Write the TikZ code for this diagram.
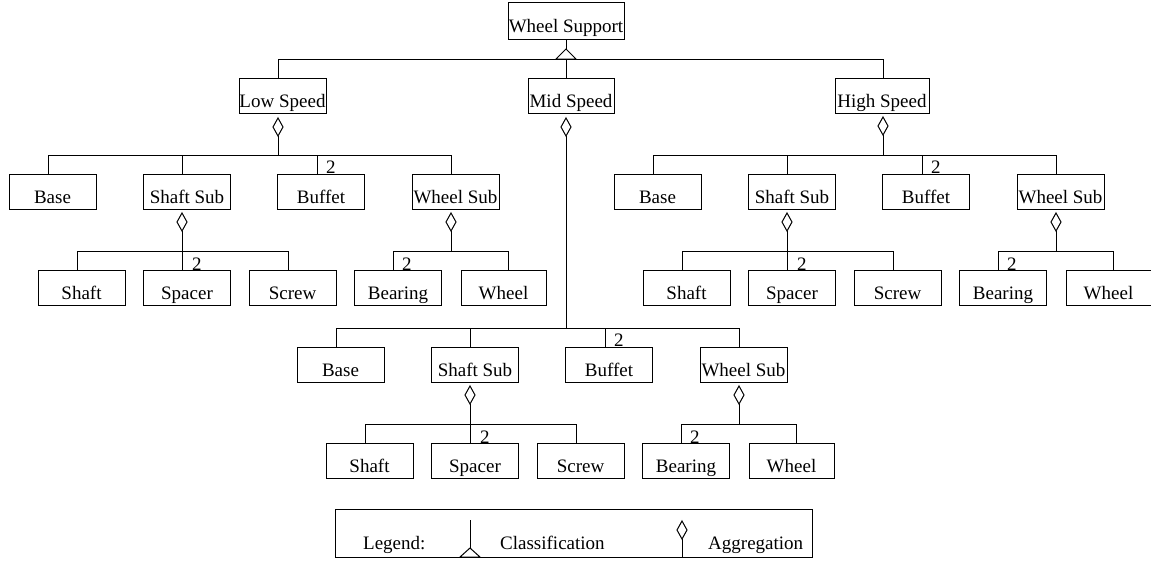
\documentclass[tikz,border=0pt]{standalone}
\usepackage{fontspec}
\setmainfont{Liberation Serif}
\newcommand\fsz{\fontsize{19pt}{22pt}\selectfont}
\newcommand\aggdiam[1]{\draw[conn] (#1) -- ++(5,9) -- ++(-5,9) -- ++(-5,-9) -- cycle;}
\newcommand\drawSubtree[2]{%
\begin{scope}[shift={#2}, name prefix=#1-]
  % level 2
  \node[box] (base) at (52.5,191.5) {Base};
  \node[box] (ss)   at (187,191.5)  {Shaft Sub};
  \node[box] (buf)  at (321,191.5)  {Buffet};
  \node[box] (ws)   at (455.5,191.5) {Wheel Sub};
  \coordinate (top)  at (278,155);
  \coordinate (busl) at (48,155);
  \coordinate (dss)  at (182,155);
  \coordinate (dbuf) at (317,155);
  \coordinate (busr) at (451,155);
  \draw[conn] (busl) -- (busr);
  \draw[conn] (busl) -- (busl |- base.north);
  \draw[conn] (dss)  -- (dss |- ss.north);
  \draw[conn] (dbuf) -- (dbuf |- buf.north);
  \draw[conn] (busr) -- (busr |- ws.north);
  \node[num] (nbuf) at ([xshift=9pt]dbuf |- buf.north) {2};
  % shaft sub children
  \node[box] (shaft)  at (81.5,288) {Shaft};
  \node[box] (spacer) at (187,288)  {Spacer};
  \node[box] (screw)  at (292.5,288) {Screw};
  \coordinate (ssa)  at (182,213);
  \coordinate (ssad) at (182,231);
  \coordinate (sbl)  at (77,251);
  \coordinate (sbm)  at (182,251);
  \coordinate (sbr)  at (288,251);
  \aggdiam{ssa}
  \draw[conn] (ssad) -- (ssad |- spacer.north);
  \draw[conn] (sbl) -- (sbr);
  \draw[conn] (sbl) -- (sbl |- shaft.north);
  \draw[conn] (sbr) -- (sbr |- screw.north);
  \node[num] (nsp) at ([xshift=10pt]sbm |- spacer.north) {2};
  % wheel sub children
  \node[box] (bearing) at (398,288) {Bearing};
  \node[box, minimum width=85pt] (wheel) at (503.5,288) {Wheel};
  \coordinate (wsa)  at (451,213);
  \coordinate (wsad) at (451,231);
  \coordinate (wbm)  at (451,251);
  \coordinate (wbl)  at (393,251);
  \coordinate (wbr)  at (508,251);
  \aggdiam{wsa}
  \draw[conn] (wsad) -- (wbm);
  \draw[conn] (wbl) -- (wbr);
  \draw[conn] (wbl) -- (wbl |- bearing.north);
  \draw[conn] (wbr) -- (wbr |- wheel.north);
  \node[num] (nbe) at ([xshift=9pt]wbl |- bearing.north) {2};
\end{scope}}
\begin{document}
\begin{tikzpicture}[x=1pt,y=-1pt,
  conn/.style={line width=1pt, line join=miter},
  box/.style={draw, line width=1pt, rectangle, inner sep=0pt,
    minimum width=87pt, minimum height=35pt,
    text height=23pt, text depth=0pt, font=\fsz},
  num/.style={anchor=base west, inner sep=0pt, font=\fsz},
  lbl/.style={anchor=base west, inner sep=0pt, font=\fsz}]
\useasboundingbox (0,0) rectangle (1151,560);
% root
\node[box, minimum width=116pt, minimum height=37pt] (root) at (566,20.5) {Wheel Support};
\coordinate (rtip) at (566,49);
\coordinate (b0l) at (278,59);
\coordinate (b0m) at (566,59);
\coordinate (b0r) at (883,59);
\draw[conn] (root.south) -- (rtip);
\draw[conn] (rtip) -- ++(10,10) -- ++(-20,0) -- cycle;
\draw[conn] (b0l) -- (b0r);
% level 1
\node[box] (ls) at (282.5,95.5) {Low Speed};
\node[box, minimum width=86pt] (ms) at (571,96) {Mid Speed};
\node[box, minimum width=94pt] (hs) at (882,95.5) {High Speed};
\draw[conn] (b0l) -- (b0l |- ls.north);
\draw[conn] (b0m) -- (b0m |- ms.north);
\draw[conn] (b0r) -- (b0r |- hs.north);
% subtrees
\drawSubtree{L}{(0,0)}
\drawSubtree{M}{(288,173)}
\drawSubtree{H}{(605,0)}
% aggregation from level 1
\coordinate (lsa) at (278,118);
\coordinate (lsad) at (278,136);
\coordinate (msa) at (566,118);
\coordinate (msad) at (566,136);
\coordinate (hsa) at (883,117);
\coordinate (hsad) at (883,135);
\aggdiam{lsa}
\aggdiam{msa}
\aggdiam{hsa}
\draw[conn] (lsad) -- (L-top);
\draw[conn] (msad) -- (M-top);
\draw[conn] (hsad) -- (H-top);
% legend
\node[draw, line width=1pt, rectangle, inner sep=0pt, minimum width=477pt, minimum height=48pt] (legend) at (573.5,533) {};
\node[lbl] (lg) at (363,549) {Legend:};
\node[lbl] (lc) at (500,549) {Classification};
\node[lbl] (la) at (708,549) {Aggregation};
\coordinate (cls) at (470,520);
\coordinate (clt) at (470,548);
\draw[conn] (cls) -- (clt);
\draw[conn] (clt) -- ++(10,9) -- ++(-20,0) -- cycle;
\coordinate (agt) at (682,521);
\coordinate (agb) at (682,539);
\aggdiam{agt}
\draw[conn] (agb) -- (agb |- legend.south);
\end{tikzpicture}
\end{document}
